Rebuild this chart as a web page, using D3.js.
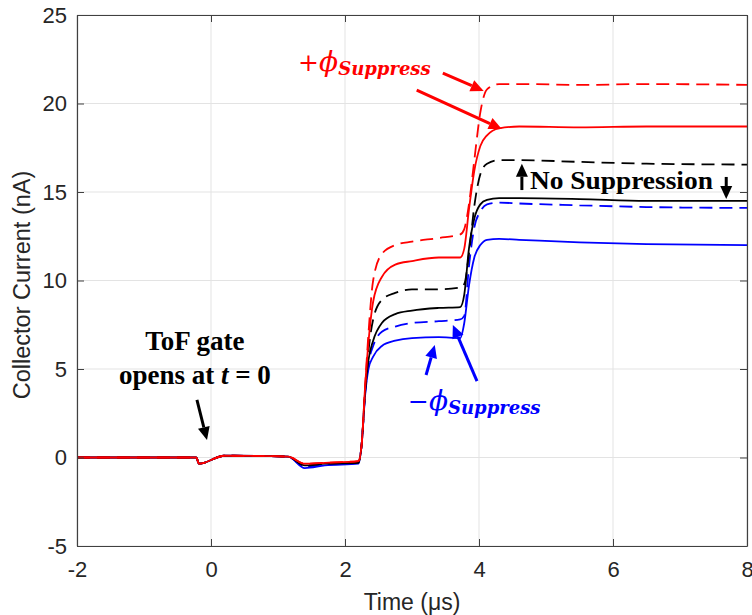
<!DOCTYPE html>
<html>
<head>
<meta charset="utf-8">
<title>Collector current</title>
<script src="https://d3js.org/d3.v7.min.js"></script>
<style>
  body { margin: 0; background: #fff; }
  .tick text { font-family: "Liberation Sans", Arial, sans-serif; font-size: 22px; fill: #262626; }
</style>
</head>
<body>
<script>
// time axis in microseconds, shared by all traces
const timeUs = [-2, -1, -0.22, -0.18, 0.2, 1.15, 1.4, 1.7, 2.2, 2.25, 2.3, 2.35, 2.42, 2.55, 2.75, 3.0, 3.4, 3.72,
                3.78, 3.85, 3.93, 4.02, 4.12, 4.3, 4.6, 5.5, 6.5, 8];

// collector current (nA)
const plusDashed  = [0, 0, 0, -0.35, 0.1, 0.05, -0.35, -0.3, -0.2, 0.8, 4.0, 7.0, 10.0, 11.5, 12.0, 12.2, 12.4, 12.6,
                     12.9, 14.3, 16.8, 19.5, 20.8, 21.1, 21.1, 21.05, 21.1, 21.05];
const plusSolid   = [0, 0, 0, -0.35, 0.1, 0.05, -0.35, -0.3, -0.2, 0.8, 4.0, 6.5, 8.8, 10.2, 10.9, 11.1, 11.3, 11.3,
                     11.8, 14.0, 16.2, 17.6, 18.2, 18.6, 18.7, 18.65, 18.7, 18.7];
const noneDashed  = [0, 0, 0, -0.35, 0.1, 0.05, -0.45, -0.35, -0.25, 0.8, 3.8, 6.0, 7.8, 8.9, 9.3, 9.5, 9.5, 9.6,
                     9.8, 11.5, 14.2, 16.0, 16.6, 16.8, 16.8, 16.7, 16.6, 16.55];
const noneSolid   = [0, 0, 0, -0.35, 0.1, 0.05, -0.45, -0.35, -0.3, 0.8, 3.7, 5.5, 6.6, 7.6, 8.1, 8.3, 8.45, 8.5,
                     9.2, 11.8, 13.5, 14.3, 14.55, 14.65, 14.65, 14.6, 14.5, 14.5];
const minusDashed = [0, 0, 0, -0.35, 0.1, 0.05, -0.55, -0.4, -0.3, 0.8, 3.6, 5.3, 6.3, 7.1, 7.4, 7.6, 7.7, 7.8,
                     8.0, 10.8, 13.0, 13.9, 14.3, 14.4, 14.35, 14.25, 14.15, 14.1];
const minusSolid  = [0, 0, 0, -0.35, 0.1, 0.05, -0.6, -0.45, -0.35, 0.8, 3.5, 5.0, 5.7, 6.3, 6.6, 6.75, 6.8, 6.75,
                     7.6, 9.7, 11.3, 12.0, 12.3, 12.35, 12.3, 12.15, 12.05, 12.0];

const xTicks = [-2, 0, 2, 4, 6, 8];
const yTicks = [-5, 0, 5, 10, 15, 20, 25];

const series = [
  { values: minusSolid,  color: "#0000ff", dashed: false },
  { values: minusDashed, color: "#0000ff", dashed: true },
  { values: noneSolid,   color: "#000000", dashed: false },
  { values: noneDashed,  color: "#000000", dashed: true },
  { values: plusSolid,   color: "#ff0000", dashed: false },
  { values: plusDashed,  color: "#ff0000", dashed: true }
];

const svgWidth = 752, svgHeight = 615;
const margin = { top: 15, right: 5, bottom: 69, left: 77 };
const width = svgWidth - margin.left - margin.right;
const height = svgHeight - margin.top - margin.bottom;

const svg = d3.select("body").append("svg")
    .attr("width", svgWidth)
    .attr("height", svgHeight);

const x = d3.scaleLinear().domain([-2, 8]).range([0, width]);
const y = d3.scaleLinear().domain([-5, 25]).range([height, 0]);

const g = svg.append("g").attr("transform", `translate(${margin.left},${margin.top})`);

// grid
g.selectAll(".vgrid").data(xTicks).enter().append("line")
    .attr("x1", d => x(d)).attr("x2", d => x(d))
    .attr("y1", 0).attr("y2", height)
    .attr("stroke", "#e3e3e3").attr("stroke-width", 1);
g.selectAll(".hgrid").data(yTicks).enter().append("line")
    .attr("x1", 0).attr("x2", width)
    .attr("y1", d => y(d)).attr("y2", d => y(d))
    .attr("stroke", "#e3e3e3").attr("stroke-width", 1);

// traces
const line = d3.line()
    .x((d, i) => x(timeUs[i]))
    .y(d => y(d))
    .curve(d3.curveMonotoneX);

series.forEach(s => {
  g.append("path")
      .datum(s.values)
      .attr("d", line)
      .attr("fill", "none")
      .attr("stroke", s.color)
      .attr("stroke-width", 1.8)
      .attr("stroke-dasharray", s.dashed ? "13,7" : null);
});

// axes, ticks pointing inward like matlab, plain hyphen for minus
const fmt = d => String(d);
function styleAxis(sel) {
  sel.select(".domain").attr("stroke", "#404040").attr("stroke-width", 1.2);
  sel.selectAll(".tick line").attr("stroke", "#404040");
}
g.append("g").attr("transform", `translate(0,${height})`)
    .call(d3.axisBottom(x).tickValues(xTicks).tickFormat(fmt).tickSizeInner(-7).tickSizeOuter(0).tickPadding(15))
    .call(styleAxis);
g.append("g")
    .call(d3.axisLeft(y).tickValues(yTicks).tickFormat(fmt).tickSizeInner(-7).tickSizeOuter(0).tickPadding(10))
    .call(styleAxis);
g.append("g")
    .call(d3.axisTop(x).tickValues(xTicks).tickSizeInner(-7).tickSizeOuter(0).tickFormat(""))
    .call(styleAxis);
g.append("g").attr("transform", `translate(${width},0)`)
    .call(d3.axisRight(y).tickValues(yTicks).tickSizeInner(-7).tickSizeOuter(0).tickFormat(""))
    .call(styleAxis);

// axis labels
svg.append("text")
    .attr("x", margin.left + width / 2).attr("y", 610)
    .attr("text-anchor", "middle")
    .style("font-family", "Liberation Sans, Arial, sans-serif").style("font-size", "23px")
    .attr("fill", "#262626")
    .text("Time (μs)");
svg.append("text")
    .attr("transform", "translate(30,285) rotate(-90)")
    .attr("text-anchor", "middle")
    .style("font-family", "Liberation Sans, Arial, sans-serif").style("font-size", "23.5px")
    .attr("fill", "#262626")
    .text("Collector Current (nA)");

// annotation arrows, positions in data units
function arrow(t0, v0, t1, v1, color) {
  const x0 = x(t0), y0 = y(v0), x1 = x(t1), y1 = y(v1);
  const a = Math.atan2(y1 - y0, x1 - x0);
  const len = 13, half = 6;
  const bx = x1 - len * Math.cos(a), by = y1 - len * Math.sin(a);
  g.append("line")
      .attr("x1", x0).attr("y1", y0).attr("x2", bx).attr("y2", by)
      .attr("stroke", color).attr("stroke-width", 3);
  g.append("polygon")
      .attr("points", [
        [x1, y1],
        [bx + half * Math.sin(a), by - half * Math.cos(a)],
        [bx - half * Math.sin(a), by + half * Math.cos(a)]
      ].map(p => p.join(",")).join(" "))
      .attr("fill", color);
}

arrow(3.46, 21.72, 4.07, 20.71, "#ff0000");
arrow(3.07, 20.76, 4.34, 18.56, "#ff0000");
arrow(3.21, 4.66, 3.34, 6.36, "#0000ff");
arrow(3.97, 4.32, 3.61, 7.49, "#0000ff");
arrow(4.64, 15.11, 4.64, 16.6, "#000000");
arrow(7.69, 15.85, 7.69, 14.6, "#000000");
arrow(-0.21, 3.25, -0.06, 0.99, "#000000");

// phi labels
function phiLabel(t, v, sign, color) {
  const txt = g.append("text")
      .attr("x", x(t)).attr("y", y(v))
      .attr("fill", color)
      .style("font-family", "DejaVu Serif, serif");
  txt.append("tspan").style("font-size", "25px").text(sign);
  txt.append("tspan").style("font-size", "28px").style("font-style", "italic").text("ϕ");
  txt.append("tspan").attr("dy", 4).style("font-size", "18px")
      .style("font-style", "italic").style("font-weight", "bold").text("Suppress");
}
phiLabel(1.30, 21.84, "+", "#ff0000");
phiLabel(2.94, 2.68, "−", "#0000ff");

g.append("text")
    .attr("x", x(4.76)).attr("y", y(15.17))
    .attr("textLength", 183).attr("lengthAdjust", "spacingAndGlyphs")
    .style("font-family", "Liberation Serif, serif").style("font-size", "26px").style("font-weight", "bold")
    .text("No Suppression");

const tof = g.append("text")
    .attr("text-anchor", "middle")
    .style("font-family", "Liberation Serif, serif").style("font-size", "27px").style("font-weight", "bold");
tof.append("tspan").attr("x", x(-0.24)).attr("y", y(6.07)).text("ToF gate");
const tof2 = tof.append("tspan").attr("x", x(-0.24)).attr("y", y(4.15));
tof2.append("tspan").text("opens at ");
tof2.append("tspan").style("font-style", "italic").text("t");
tof2.append("tspan").text(" = 0");
</script>
</body>
</html>
